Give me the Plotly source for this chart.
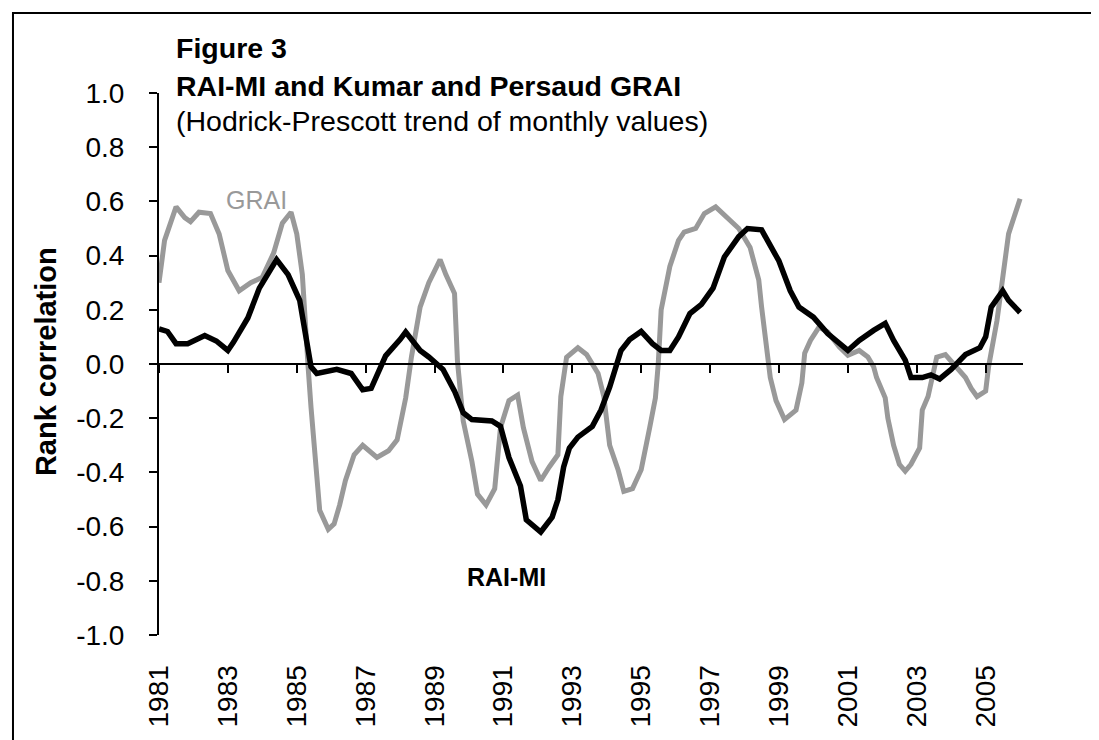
import plotly.graph_objects as go

# RAI-MI (black) — readings from the picture
rai_dates = ["1981-01", "1981-04", "1981-07", "1981-11", "1982-05", "1982-09", "1983-01", "1983-03",
             "1983-08", "1983-12", "1984-06", "1984-10", "1985-02", "1985-04", "1985-06", "1985-08",
             "1986-03", "1986-08", "1986-12", "1987-03", "1987-08", "1988-01", "1988-03", "1988-08",
             "1988-11", "1989-04", "1989-08", "1989-11", "1990-02", "1990-09", "1990-12", "1991-03",
             "1991-07", "1991-09", "1992-02", "1992-06", "1992-08", "1992-10", "1992-12", "1993-03",
             "1993-08", "1993-11", "1994-02", "1994-06", "1994-09", "1995-01", "1995-05", "1995-08",
             "1995-11", "1996-02", "1996-06", "1996-10", "1997-02", "1997-06", "1997-11", "1998-02",
             "1998-07", "1998-09", "1999-01", "1999-05", "1999-08", "2000-01", "2000-06", "2001-01",
             "2001-05", "2001-10", "2002-02", "2002-05", "2002-09", "2002-11", "2003-03", "2003-06",
             "2003-09", "2004-01", "2004-06", "2004-11", "2005-01", "2005-03", "2005-07", "2005-09",
             "2006-01"]
rai_values = [0.13, 0.12, 0.075, 0.075, 0.105, 0.085, 0.05, 0.08,
              0.17, 0.28, 0.385, 0.33, 0.235, 0.12, -0.01, -0.035,
              -0.02, -0.035, -0.095, -0.09, 0.03, 0.09, 0.118, 0.05,
              0.026, -0.02, -0.10, -0.18, -0.205, -0.21, -0.23, -0.345,
              -0.45, -0.575, -0.62, -0.565, -0.50, -0.38, -0.31, -0.27,
              -0.23, -0.17, -0.085, 0.05, 0.09, 0.12, 0.075, 0.05,
              0.05, 0.10, 0.186, 0.22, 0.28, 0.395, 0.47, 0.50,
              0.495, 0.456, 0.38, 0.27, 0.21, 0.173, 0.112, 0.05,
              0.087, 0.124, 0.15, 0.087, 0.014, -0.05, -0.05, -0.04,
              -0.055, -0.02, 0.035, 0.06, 0.10, 0.21, 0.27, 0.235,
              0.19]

# GRAI (grey) — readings from the picture
grai_dates = ["1981-01", "1981-03", "1981-07", "1981-10", "1981-12", "1982-03", "1982-07", "1982-10",
              "1983-01", "1983-05", "1983-09", "1984-01", "1984-05", "1984-08", "1984-11", "1985-01",
              "1985-03", "1985-04", "1985-05", "1985-06", "1985-08", "1985-09", "1985-12", "1986-02",
              "1986-04", "1986-06", "1986-09", "1986-12", "1987-05", "1987-09", "1987-12", "1988-03",
              "1988-05", "1988-08", "1988-11", "1989-03", "1989-05", "1989-08", "1989-09", "1989-11",
              "1990-02", "1990-04", "1990-07", "1990-10", "1990-12", "1991-03", "1991-06", "1991-08",
              "1991-11", "1992-02", "1992-05", "1992-08", "1992-09", "1992-11", "1993-03", "1993-06",
              "1993-10", "1993-12", "1994-02", "1994-05", "1994-07", "1994-10", "1995-01", "1995-02",
              "1995-04", "1995-06", "1995-07", "1995-08", "1995-11", "1996-02", "1996-04", "1996-08",
              "1996-11", "1997-03", "1997-08", "1997-11", "1998-03", "1998-06", "1998-07", "1998-09",
              "1998-10", "1998-12", "1999-03", "1999-07", "1999-09", "1999-10", "1999-12", "2000-03",
              "2000-06", "2000-10", "2001-01", "2001-05", "2001-08", "2001-10", "2001-11", "2002-02",
              "2002-03", "2002-05", "2002-07", "2002-09", "2002-11", "2003-02", "2003-03", "2003-05",
              "2003-08", "2003-11", "2004-03", "2004-06", "2004-08", "2004-10", "2005-01", "2005-02",
              "2005-05", "2005-07", "2005-09", "2006-01"]
grai_values = [0.30, 0.456, 0.58, 0.54, 0.525, 0.56, 0.555, 0.48,
               0.345, 0.27, 0.30, 0.32, 0.41, 0.52, 0.56, 0.48,
               0.33, 0.186, -0.01, -0.16, -0.41, -0.54, -0.61, -0.59,
               -0.52, -0.43, -0.335, -0.30, -0.345, -0.32, -0.28, -0.125,
               0.026, 0.21, 0.30, 0.385, 0.33, 0.26, 0.01, -0.21,
               -0.36, -0.48, -0.52, -0.46, -0.235, -0.135, -0.115, -0.235,
               -0.36, -0.43, -0.38, -0.335, -0.12, 0.025, 0.06, 0.035,
               -0.035, -0.12, -0.30, -0.39, -0.47, -0.46, -0.39, -0.33,
               -0.235, -0.125, 0.0, 0.20, 0.36, 0.456, 0.487, 0.50,
               0.555, 0.58, 0.53, 0.50, 0.43, 0.31, 0.21, 0.014,
               -0.05, -0.135, -0.205, -0.17, -0.07, 0.04, 0.087, 0.136,
               0.118, 0.063, 0.032, 0.05, 0.026, -0.01, -0.05, -0.125,
               -0.20, -0.30, -0.37, -0.395, -0.37, -0.31, -0.17, -0.12,
               0.025, 0.035, -0.01, -0.05, -0.09, -0.12, -0.10, -0.01,
               0.16, 0.33, 0.48, 0.61]

x_tick_years = [str(y) for y in range(1981, 2006, 2)]
y_tick_vals = [1.0, 0.8, 0.6, 0.4, 0.2, 0.0, -0.2, -0.4, -0.6, -0.8, -1.0]
y_tick_text = ["1.0", "0.8", "0.6", "0.4", "0.2", "0.0", "-0.2", "-0.4", "-0.6", "-0.8", "-1.0"]

FONT = "Arial, Liberation Sans, sans-serif"
GREY = "#999999"

fig = go.Figure()
fig.add_trace(go.Scatter(x=grai_dates, y=grai_values, mode="lines", name="GRAI",
                         line=dict(color=GREY, width=5)))
fig.add_trace(go.Scatter(x=rai_dates, y=rai_values, mode="lines", name="RAI-MI",
                         line=dict(color="black", width=5.5)))
# invisible trace to carry the zero-line axis
fig.add_trace(go.Scatter(x=[rai_dates[0]], y=[0], xaxis="x2", mode="markers",
                         marker=dict(opacity=0), hoverinfo="skip", showlegend=False))

tickvals = [f"{y}-01-01" for y in x_tick_years]
xr = ["1981-01-01", "2006-02-01"]

fig.update_layout(
    width=1099, height=740,
    margin=dict(l=151, r=84, t=85, b=113),
    paper_bgcolor="white", plot_bgcolor="white",
    showlegend=False,
    font=dict(family=FONT, color="black", size=28),
    xaxis=dict(type="date", range=xr, tickvals=tickvals, ticktext=x_tick_years,
               tickangle=-90, showline=False, showgrid=False, zeroline=False,
               ticks="outside", ticklen=18, tickcolor="rgba(0,0,0,0)",
               tickfont=dict(size=28, family=FONT)),
    xaxis2=dict(type="date", overlaying="x", matches="x", anchor="free", position=0.5,
                range=xr, tickvals=tickvals, showticklabels=False,
                showline=True, linecolor="black", linewidth=2,
                ticks="outside", ticklen=8, tickwidth=2, tickcolor="black",
                showgrid=False, zeroline=False),
    yaxis=dict(range=[-1, 1], tickvals=y_tick_vals, ticktext=y_tick_text,
               showline=True, linecolor="black", linewidth=2,
               ticks="outside", ticklen=8, tickwidth=2, tickcolor="black",
               ticklabelstandoff=19,
               showgrid=False, zeroline=False, tickfont=dict(size=28, family=FONT)),
)

annos = [
    dict(text="<b>Figure 3</b>", x=0.017, y=1.083, size=28.5),
    dict(text="<b>RAI-MI and Kumar and Persaud GRAI</b>", x=0.017, y=1.013, size=28.5),
    dict(text="(Hodrick-Prescott trend of monthly values)", x=0.017, y=0.948, size=28.5),
]
for a in annos:
    fig.add_annotation(text=a["text"], xref="paper", yref="paper", x=a["x"], y=a["y"],
                       xanchor="left", yanchor="middle", showarrow=False,
                       font=dict(size=a["size"], family=FONT, color="black"))

fig.add_annotation(text="<b>Rank correlation</b>", xref="paper", yref="paper",
                   x=-0.131, y=0.505, textangle=-90, xanchor="center", yanchor="middle",
                   showarrow=False, font=dict(size=29, family=FONT, color="black"))
fig.add_annotation(text="GRAI", x="1983-11-01", y=0.605, showarrow=False,
                   font=dict(size=25, family=FONT, color=GREY))
fig.add_annotation(text="<b>RAI-MI</b>", x="1991-02-01", y=-0.786, showarrow=False,
                   font=dict(size=25, family=FONT, color="black"))

# outer frame of the chart
fig.add_shape(type="rect", xref="paper", yref="paper",
              x0=-0.169, x1=1.0949, y0=-0.203, y1=1.1476,
              line=dict(color="black", width=2), layer="below")

fig.write_html("out.html")
